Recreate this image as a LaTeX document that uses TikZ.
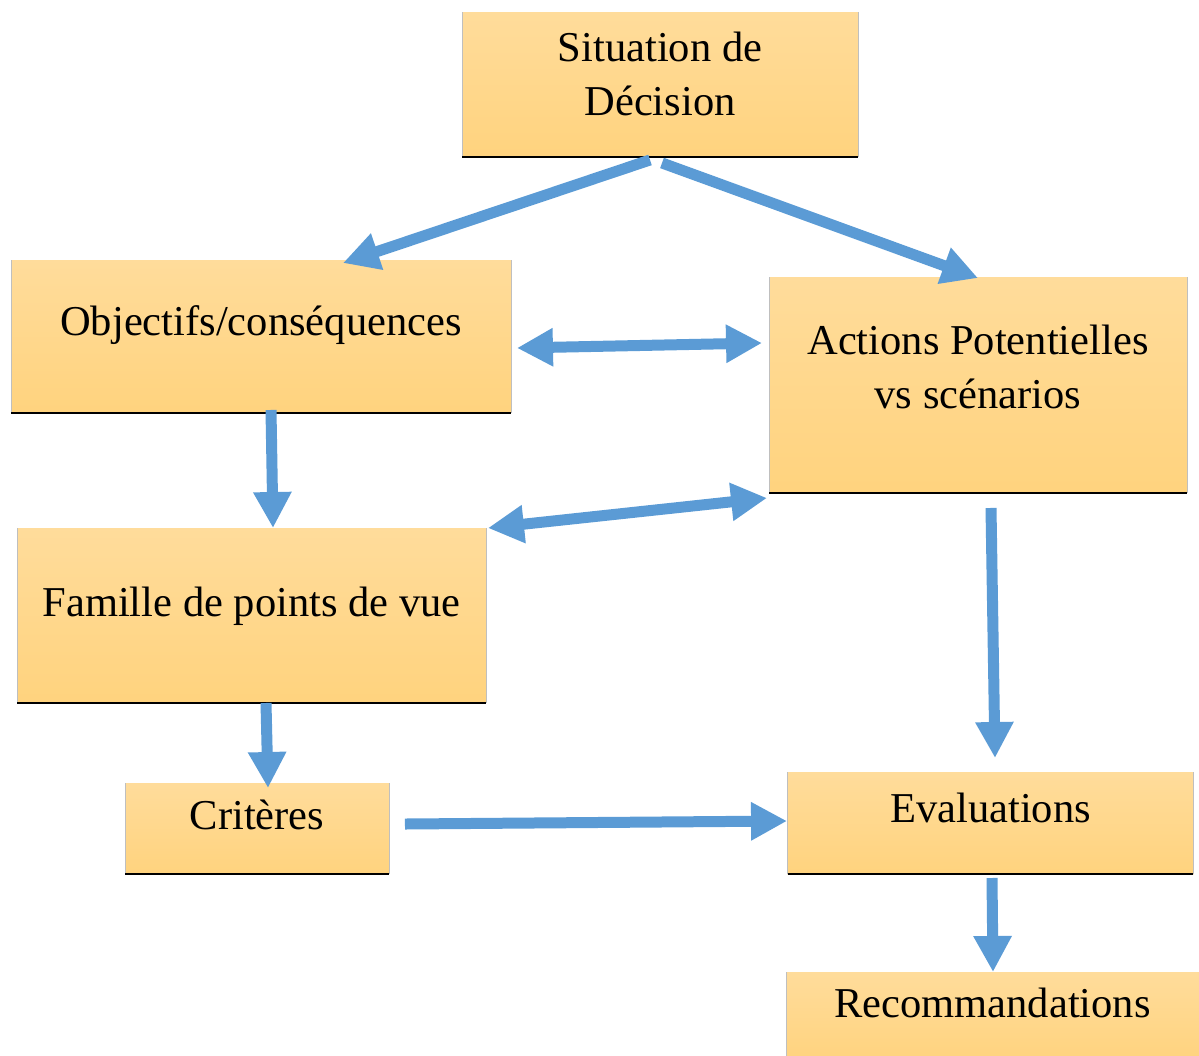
\documentclass[tikz,border=0pt]{standalone}
\usepackage{fontspec}
\setmainfont{Liberation Serif}
\usetikzlibrary{arrows.meta,calc}
\definecolor{boxtop}{HTML}{FFDC9B}
\definecolor{boxbot}{HTML}{FFD37E}
\definecolor{linkblue}{HTML}{5B9BD5}
\tikzset{
  box/.style={top color=boxtop, bottom color=boxbot, inner sep=0pt, outer sep=0pt,
    align=center, text depth=0.56cm, font=\fontsize{24.2}{31}\selectfont,
    append after command={\pgfextra{\let\thisbox\tikzlastnode}
      (\thisbox.north west) edge[draw=gray!50, line width=0.5pt] (\thisbox.south west)
      (\thisbox.north east) edge[draw=gray!50, line width=0.5pt] (\thisbox.south east)
      (\thisbox.south west) edge[draw=black, line width=1.6pt] (\thisbox.south east)}},
  link/.style={linkblue, line width=0.22cm, >={Triangle[length=0.72cm,width=0.72cm]}}
}
\begin{document}
\begin{tikzpicture}[x=0.02cm,y=-0.02cm]
			\useasboundingbox (0,0) rectangle (1199,1055);
			\node[box, text depth=0.42cm, minimum width=7.92cm, minimum height=2.9cm] (sit) at (660,84.5) {Situation de\\Décision};
			\node[box, text depth=0.64cm, minimum width=10cm, minimum height=3.06cm] (obj) at (261,336.5) {Objectifs/conséquences};
			\node[box, text depth=0.72cm, minimum width=8.36cm, minimum height=4.32cm] (act) at (978,385) {Actions Potentielles\\vs scénarios};
			\node[box, minimum width=9.38cm, minimum height=3.5cm] (fam) at (251.5,615.5) {Famille de points de vue};
			\node[box, minimum width=5.28cm, minimum height=1.82cm] (crit) at (257,828.5) {Critères};
			\node[box, text depth=0.6cm, minimum width=8.12cm, minimum height=2.04cm] (eval) at (990.5,823) {Evaluations};
			\node[box, minimum width=8.26cm, minimum height=1.8cm] (reco) at (992.5,1017) {Recommandations};

			\begin{scope}[link]
			    \draw[->] ($(sit.south)+(-10,3)$) -- ($(obj.north)+(82,3)$);
			    \draw[->] ($(sit.south)+(2,6)$) -- ($(act.north)+(0,1)$);
			    \draw[<->] ($(obj.east)+(6,11.5)$) -- ($(act.west)+(-7,-42)$);
			    \draw[->] ($(obj.south)+(10,-3)$) -- ($(fam.north)+(21.5,0)$);
			    \draw[<->] ($(fam.north east)+(2,0)$) -- ($(act.south west)+(-2,5)$);
			    \draw[->] ($(act.south)+(13,15)$) -- ($(eval.north)+(4.5,-14)$);
			    \draw[->] ($(fam.south)+(14.5,0)$) -- ($(crit.north)+(11,5)$);
			    \draw[->] ($(crit.east)+(16,-4.5)$) -- ($(eval.west)+(-0.5,-2)$);
			    \draw[->] ($(eval.south)+(1.5,4)$) -- ($(reco.north)+(0.5,0)$);
			\end{scope}
\end{tikzpicture}
\end{document}
